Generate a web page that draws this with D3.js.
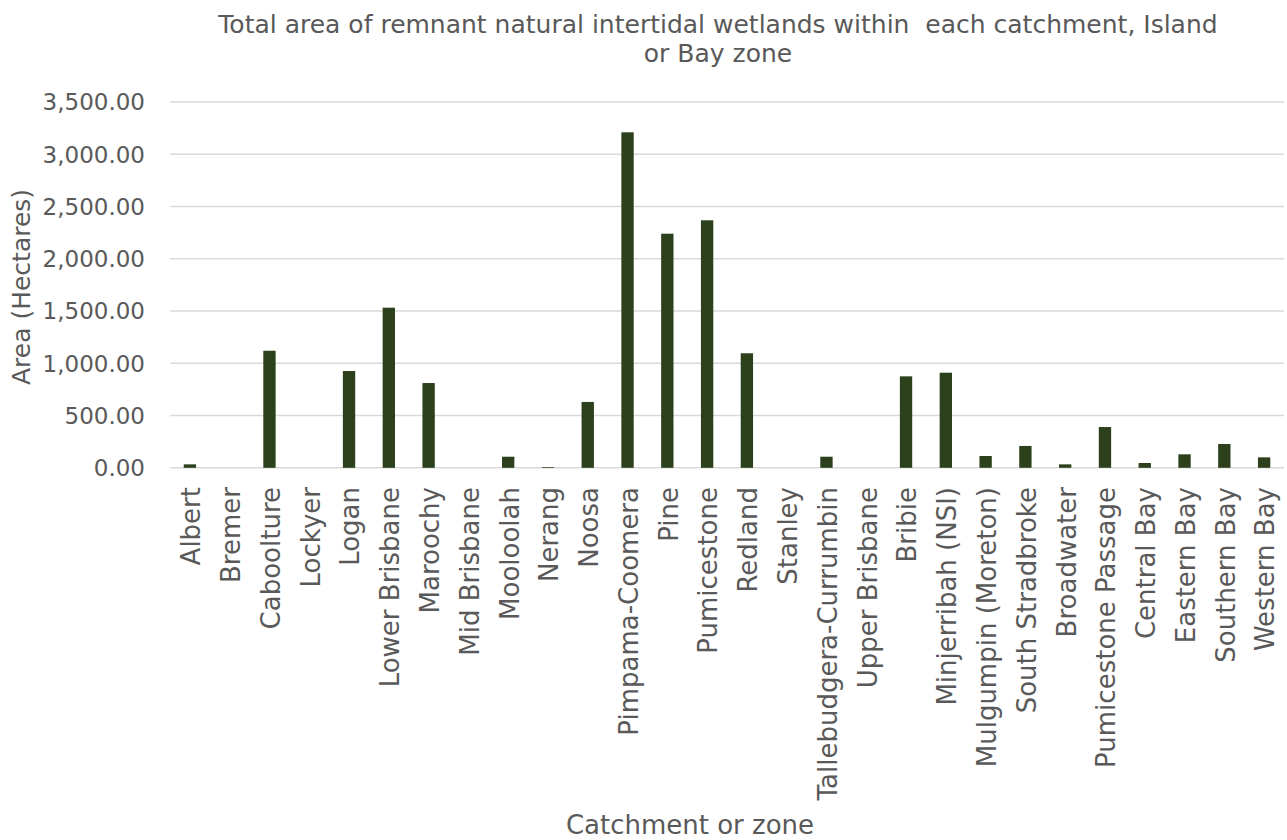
<!DOCTYPE html>
<html>
<head>
<meta charset="utf-8">
<script src="https://cdn.jsdelivr.net/npm/d3@7/dist/d3.min.js"></script>
<style>
  html, body { margin: 0; padding: 0; background: #ffffff; }
  svg { display: block; }
  text { font-family: "DejaVu Sans", sans-serif; fill: #595959; white-space: pre; }
</style>
</head>
<body>
<svg id="chart" width="1287" height="840"></svg>
<script>
// Catchments, islands and bay zones
const categories = [
  "Albert", "Bremer", "Caboolture", "Lockyer", "Logan", "Lower Brisbane",
  "Maroochy", "Mid Brisbane", "Mooloolah", "Nerang", "Noosa",
  "Pimpama-Coomera", "Pine", "Pumicestone", "Redland", "Stanley",
  "Tallebudgera-Currumbin", "Upper Brisbane", "Bribie", "Minjerribah (NSI)",
  "Mulgumpin (Moreton)", "South Stradbroke", "Broadwater",
  "Pumicestone Passage", "Central Bay", "Eastern Bay", "Southern Bay",
  "Western Bay"
];

// Remnant natural intertidal wetland area (hectares)
const areaHa = [
  33, 0, 1120, 0, 926, 1532,
  811, 0, 106, 7, 630,
  3210, 2240, 2368, 1096, 0,
  106, 0, 875, 910,
  113, 209, 33,
  390, 46, 129, 228,
  100
];

const yTicks = [0, 500, 1000, 1500, 2000, 2500, 3000, 3500];

const titleLines = [
  "Total area of remnant natural intertidal wetlands within  each catchment, Island",
  "or Bay zone"
];
const yTitle = "Area (Hectares)";
const xTitle = "Catchment or zone";

const svg = d3.select("#chart");

const plot = { left: 170, right: 1284, top: 102, bottom: 467.8 };

const x = d3.scaleBand()
  .domain(categories)
  .range([plot.left, plot.right])
  .paddingInner(0.69)
  .paddingOuter(0.345);

const y = d3.scaleLinear()
  .domain([0, 3500])
  .range([plot.bottom, plot.top]);

// Horizontal gridlines
svg.append("g")
  .selectAll("line")
  .data(yTicks)
  .join("line")
  .attr("x1", plot.left)
  .attr("x2", plot.right)
  .attr("y1", d => y(d))
  .attr("y2", d => y(d))
  .attr("stroke", "#d9d9d9")
  .attr("stroke-width", 1.6);

// Y tick labels
const fmt = d3.format(",.2f");
svg.append("g")
  .selectAll("text")
  .data(yTicks)
  .join("text")
  .attr("x", 145)
  .attr("y", d => y(d))
  .attr("dy", "0.36em")
  .attr("text-anchor", "end")
  .style("font-size", "23px")
  .text(d => fmt(d));

// Bars
svg.append("g")
  .selectAll("rect")
  .data(categories.map((c, i) => ({ c, v: areaHa[i] })))
  .join("rect")
  .attr("x", d => x(d.c))
  .attr("width", x.bandwidth())
  .attr("y", d => y(d.v))
  .attr("height", d => y(0) - y(d.v))
  .attr("fill", "#2c401c");

// Category labels, rotated
svg.append("g")
  .selectAll("text")
  .data(categories)
  .join("text")
  .attr("transform", d => `translate(${x(d) + x.bandwidth() / 2 + 1},487) rotate(-90)`)
  .attr("dy", "0.36em")
  .attr("text-anchor", "end")
  .style("font-size", "26px")
  .text(d => d);

// Chart title
svg.append("text")
  .attr("x", 718)
  .attr("y", 33)
  .attr("text-anchor", "middle")
  .style("font-size", "25px")
  .selectAll("tspan")
  .data(titleLines)
  .join("tspan")
  .attr("x", 718)
  .attr("dy", (d, i) => i === 0 ? 0 : 28.5)
  .text(d => d);

// Axis titles
svg.append("text")
  .attr("transform", "translate(21,287) rotate(-90)")
  .attr("dy", "0.36em")
  .attr("text-anchor", "middle")
  .style("font-size", "25px")
  .text(yTitle);

svg.append("text")
  .attr("x", 690)
  .attr("y", 834)
  .attr("text-anchor", "middle")
  .style("font-size", "26px")
  .text(xTitle);
</script>
</body>
</html>
